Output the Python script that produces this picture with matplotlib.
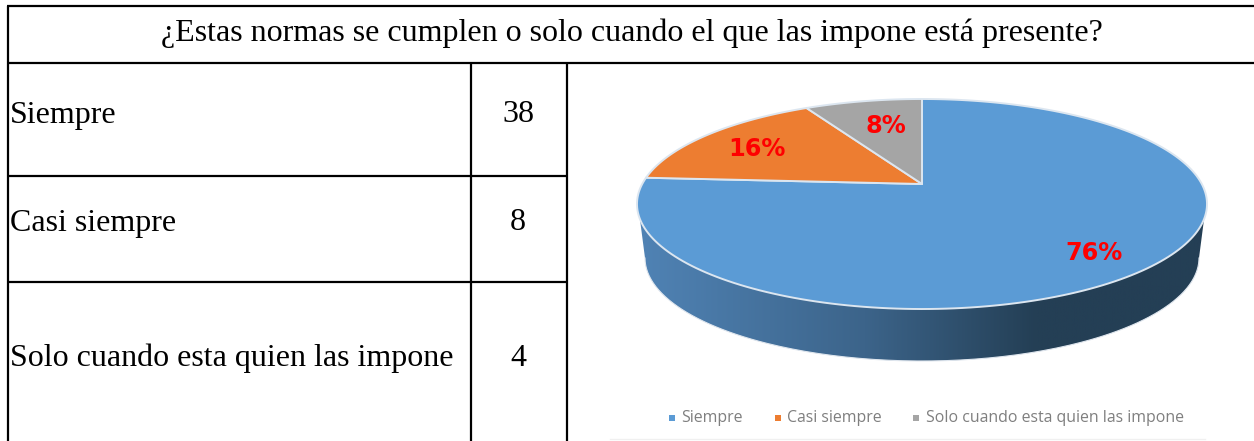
import numpy as np
import matplotlib
matplotlib.use('Agg')
import matplotlib.pyplot as plt
from matplotlib.patches import Polygon

# Data from the table
title = '¿Estas normas se cumplen o solo cuando el que las impone está presente?'
categories = ['Siempre', 'Casi siempre', 'Solo cuando esta quien las impone']
counts = [38, 8, 4]
colors = ['#5b9bd5', '#ed7d31', '#a5a5a5']

# Pixel layout of the figure
W, H = 1254, 441
row_text_y = [115, 223, 358]
legend_marker_x = [672, 778, 916]
legend_text_x = [681, 787, 926]
label_radius = [0.80, 0.75, 0.70]
label_dx = [0, 0, 7]

# Perspective disc of the fake 3D pie
cx, cy = 922, 184
kp = 0.1905
a, b = 279.8, 101.2


# Function to project a point of the unit disc to the picture
def project(r, ang):
    u = r * np.sin(ang)
    v = r * np.cos(ang)
    d = 1 + kp * v
    return cx + a * u / d, cy - b * v / d


fig = plt.figure(figsize=(W / 100, H / 100), dpi=100)
ax = fig.add_axes([0, 0, 1, 1])
ax.set_xlim(0, W)
ax.set_ylim(H, 0)
ax.axis('off')

serif = 'Liberation Serif'

# Table lines
line = dict(color='black', lw=1.6, solid_capstyle='butt', zorder=5)
ax.plot([8, 8], [5.5, H], **line)
ax.plot([7, W], [6, 6], **line)
ax.plot([7, W], [63, 63], **line)
ax.plot([471, 471], [63, H], **line)
ax.plot([567, 567], [63, H], **line)
ax.plot([8, 567], [176, 176], **line)
ax.plot([8, 567], [282, 282], **line)

# Table text
ax.text(632, 33, title, family=serif, fontsize=23, ha='center', va='center')
for name, n, y in zip(categories, counts, row_text_y):
    ax.text(10, y, name, family=serif, fontsize=23, ha='left', va='center')
    ax.text(518, y, str(n), family=serif, fontsize=23, ha='center', va='center')

# Side wall with a horizontal gradient
theta = np.linspace(0, 2 * np.pi, 361)
top_x, top_y = project(1, theta)
front = np.where(top_y > 218)[0]
order = np.argsort(top_x[front])
upper_x, upper_y = top_x[front][order], top_y[front][order]
low_t = np.linspace(np.pi, 0, 181)
low_x = 922 + 277 * np.cos(low_t)
low_y = 258 + 103 * np.sin(low_t)
wall_pts = np.column_stack([np.r_[upper_x, low_x[::-1]], np.r_[upper_y, low_y[::-1]]])
wall = Polygon(wall_pts, closed=True, facecolor='none', edgecolor='none', transform=ax.transData)
ax.add_patch(wall)
grad = np.array([[80, 131, 181], [60, 100, 138], [36, 63, 85], [36, 63, 85]]) / 255
gx = np.linspace(0, 1, 600)
img = np.stack([np.interp(gx, [0, 0.4, 0.7, 1], grad[:, i]) for i in range(3)], axis=-1)[None, :, :]
im = ax.imshow(img, extent=[637, 1207, 362, 210], aspect='auto', zorder=1)
im.set_clip_path(wall)
ax.set_xlim(0, W)
ax.set_ylim(H, 0)
ax.plot(low_x, low_y, color='#dfe6ee', lw=0.8, zorder=2)

# Slices, clockwise from the top
fractions = np.array(counts) / sum(counts)
edges = np.r_[0, np.cumsum(fractions)] * 2 * np.pi
for i, col in enumerate(colors):
    t = np.linspace(edges[i], edges[i + 1], 200)
    px, py = project(1, t)
    pts = np.column_stack([np.r_[cx, px], np.r_[cy, py]])
    ax.add_patch(Polygon(pts, closed=True, facecolor=col, edgecolor='#dce6f0', lw=1.4, zorder=3))
    mx, my = project(label_radius[i], (edges[i] + edges[i + 1]) / 2)
    ax.text(mx + label_dx[i], my + 3, f'{fractions[i] * 100:.0f}%', color='#fe0000', fontsize=17.3,
            fontweight='bold', family='DejaVu Sans', ha='center', va='center', zorder=4)

# Legend
for name, col, mk, tx in zip(categories, colors, legend_marker_x, legend_text_x):
    ax.plot([mk], [418], marker='s', ms=4, color=col, mew=0, zorder=3)
    ax.text(tx, 418, name, family='Open Sans', fontsize=11.4, color='#7f7f7f', ha='left', va='center')
ax.plot([610, 1205], [438.5, 438.5], color='#f0f0f0', lw=1)

fig.savefig('out.png', dpi=100)
